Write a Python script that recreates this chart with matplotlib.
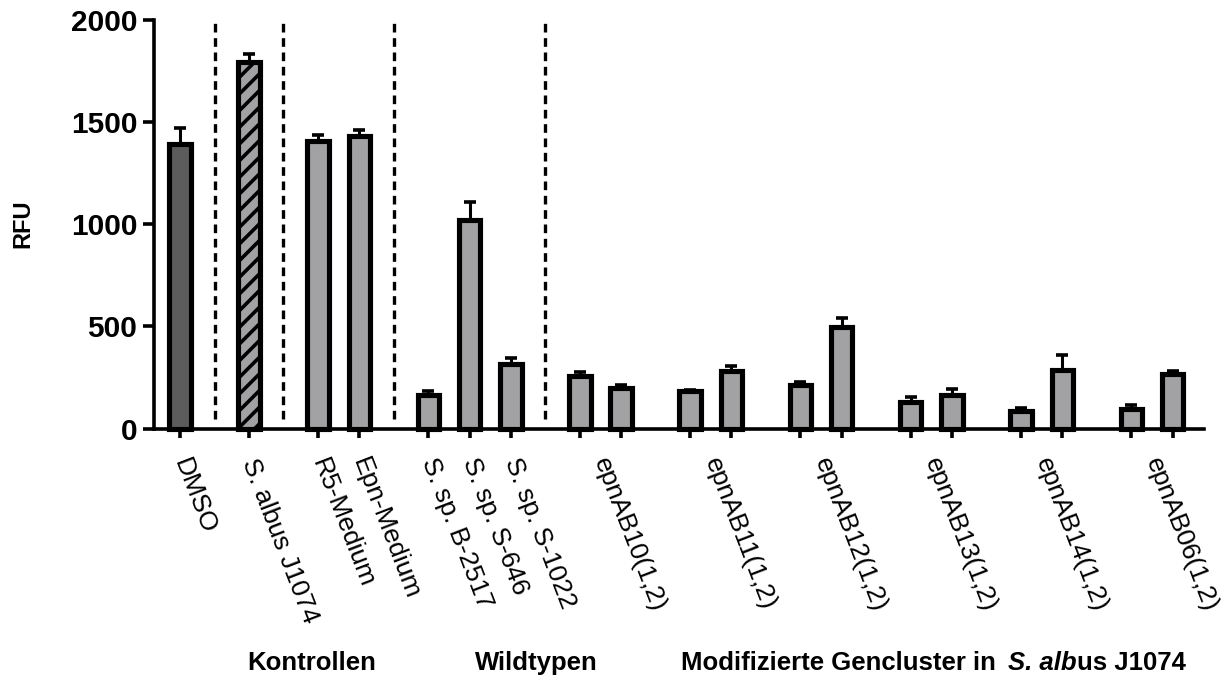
import numpy as np
import matplotlib.pyplot as plt

plt.rcParams['font.family'] = ['Liberation Sans', 'DejaVu Sans']
plt.rcParams['hatch.linewidth'] = 2.6

# data
names = ['DMSO', 'S. albus J1074', 'R5-Medium', 'Epn-Medium',
         'S. sp. B-2517', 'S. sp. S-646', 'S. sp. S-1022',
         'epnAB10(1,2)', 'epnAB11(1,2)', 'epnAB12(1,2)',
         'epnAB13(1,2)', 'epnAB14(1,2)', 'epnAB06(1,2)']
n_bars = [1, 1, 1, 1, 1, 1, 1, 2, 2, 2, 2, 2, 2]
section = [0, 1, 2, 2, 3, 3, 3, 4, 5, 6, 7, 8, 9]
rfu = [1395, 1795, 1410, 1432, 165, 1020, 315, 257, 200, 182, 281,
       214, 495, 130, 162, 87, 288, 97, 267]
sem = [75, 38, 25, 28, 20, 90, 28, 20, 14, 8, 25, 13, 46, 22, 30,
       15, 70, 16, 16]
group_names = ['Kontrollen', 'Wildtypen']

# bar positions: step 1 inside a section, bigger gap between sections
gap = 0.67
pos, label_pos, bar_sec = [], [], []
x = 0.0
for i, nb in enumerate(n_bars):
    if i > 0 and section[i] != section[i - 1]:
        x += gap
    start = x
    for k in range(nb):
        pos.append(x)
        bar_sec.append(section[i])
        x += 1
    label_pos.append((start + x - 1) / 2)
pos = np.array(pos)

# dashed separators between the first five sections
seps = [(pos[j] + pos[j + 1]) / 2 for j in range(len(pos) - 1)
        if bar_sec[j] != bar_sec[j + 1] and bar_sec[j + 1] <= 4]

fig = plt.figure(figsize=(12.23, 6.79), dpi=100)
ax = fig.add_axes([154 / 1223, (679 - 428.5) / 679, 1050 / 1223, 408.5 / 679])

colors = ['#5c5c5c'] + ['#a2a2a4'] * (len(rfu) - 1)
ax.errorbar(pos, rfu, yerr=[np.zeros(len(sem)), sem], fmt='none', ecolor='black',
            elinewidth=2.2, capsize=4.5, capthick=2.6, zorder=1, clip_on=False)
bars = ax.bar(pos, rfu, width=0.52, color=colors, edgecolor='black',
              linewidth=3.7, zorder=2, clip_on=False)
bars[1].set_hatch('//')

ax.vlines(seps, 45, 1990, colors='black', linewidth=2.4,
          linestyles=(0, (2.6, 1.7)))

ax.set_xlim(-0.63, 24.79)
ax.set_ylim(0, 2000)
ax.spines['top'].set_visible(False)
ax.spines['right'].set_visible(False)
ax.spines['left'].set_linewidth(2.6)
ax.spines['bottom'].set_linewidth(2.6)

ax.set_yticks([0, 500, 1000, 1500, 2000])
ax.tick_params(axis='y', length=8, width=2.6, pad=4, labelsize=21.5)
for t in ax.get_yticklabels():
    t.set_fontweight('bold')

# tick marks under every bar, labels under each category
ax.xaxis.remove_overlapping_locs = False
ax.set_xticks(pos)
ax.set_xticklabels([])
ax.tick_params(axis='x', which='major', length=6.5, width=2.6)
ax.set_xticks(label_pos, minor=True)
ax.set_xticklabels(names, minor=True, rotation=-69, ha='left', va='center',
                   rotation_mode='anchor', fontsize=19)
ax.tick_params(axis='x', which='minor', length=0, pad=22)

fig.text(23 / 1223, 1 - 224 / 679, 'RFU', rotation=90, ha='center', va='center',
         fontsize=17, fontweight='bold')

ylab = 1 - 663 / 679
fig.text(312 / 1223, ylab, group_names[0], ha='center', va='center',
         fontsize=18.5, fontweight='bold')
fig.text(536 / 1223, ylab, group_names[1], ha='center', va='center',
         fontsize=18.5, fontweight='bold')
t1 = fig.text(681 / 1223, ylab, 'Modifizierte Gencluster in', ha='left', va='center',
              fontsize=18.5, fontweight='bold')
t2 = ax.annotate('S. alb', xy=(1, 0), xycoords=t1, xytext=(9, 0),
                 textcoords='offset points', ha='left', va='bottom',
                 fontsize=18.5, fontweight='bold', fontstyle='italic')
ax.annotate('us J1074', xy=(1, 0), xycoords=t2, ha='left', va='bottom',
            fontsize=18.5, fontweight='bold')

fig.savefig('out.png', dpi=100)
